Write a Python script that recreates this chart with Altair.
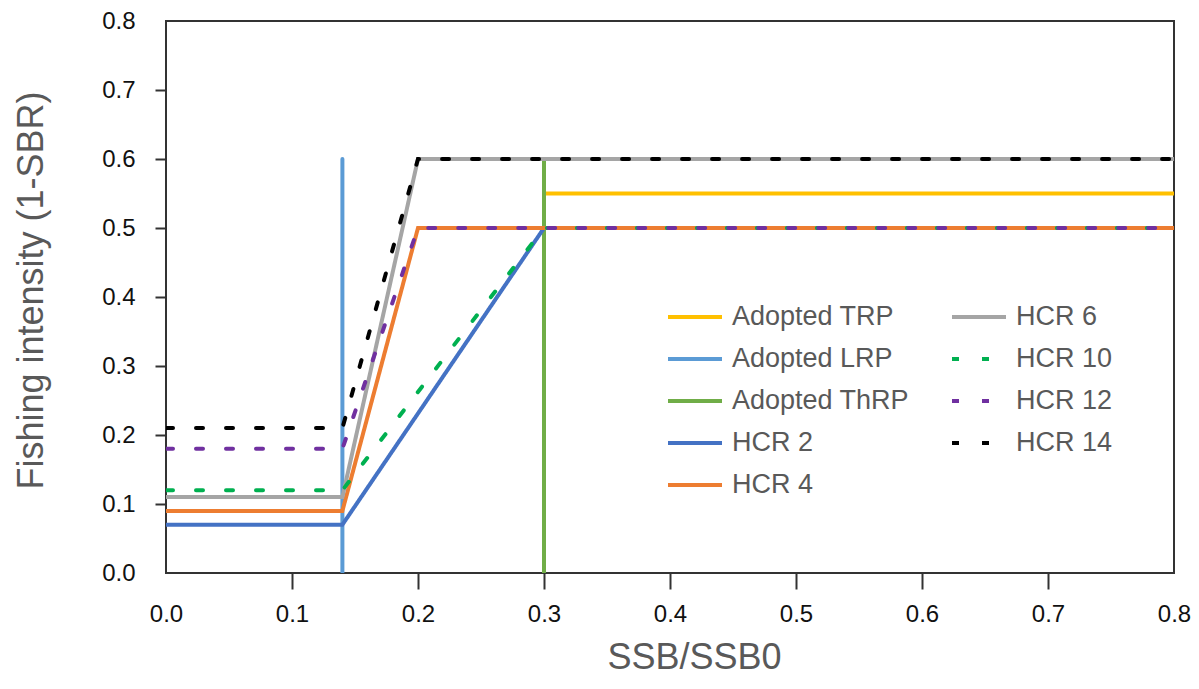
import altair as alt
import pandas as pd

# Series definitions (x = SSB/SSB0, y = fishing intensity 1-SBR)
series_names = ["Adopted TRP", "Adopted LRP", "Adopted ThRP", "HCR 2", "HCR 4",
                "HCR 6", "HCR 10", "HCR 12", "HCR 14"]
xs = {
    "Adopted TRP": [0.3, 0.8],
    "Adopted LRP": [0.14, 0.14],
    "Adopted ThRP": [0.3, 0.3],
    "HCR 2": [0.0, 0.14, 0.3, 0.8],
    "HCR 4": [0.0, 0.14, 0.2, 0.8],
    "HCR 6": [0.0, 0.14, 0.2, 0.8],
    "HCR 10": [0.0, 0.14, 0.3, 0.8],
    "HCR 12": [0.0, 0.14, 0.2, 0.8],
    "HCR 14": [0.0, 0.14, 0.2, 0.8],
}
ys = {
    "Adopted TRP": [0.55, 0.55],
    "Adopted LRP": [0.0, 0.6],
    "Adopted ThRP": [0.0, 0.6],
    "HCR 2": [0.07, 0.07, 0.5, 0.5],
    "HCR 4": [0.09, 0.09, 0.5, 0.5],
    "HCR 6": [0.11, 0.11, 0.6, 0.6],
    "HCR 10": [0.12, 0.12, 0.5, 0.5],
    "HCR 12": [0.18, 0.18, 0.5, 0.5],
    "HCR 14": [0.21, 0.21, 0.6, 0.6],
}

# legend order (column-major in a 2-column legend)
legend_order = series_names
colors = {
    "Adopted TRP": "#FFC000", "Adopted LRP": "#5B9BD5", "Adopted ThRP": "#70AD47",
    "HCR 2": "#4472C4", "HCR 4": "#ED7D31", "HCR 6": "#A5A5A5",
    "HCR 10": "#00B050", "HCR 12": "#7030A0", "HCR 14": "#000000",
}
dotted = {"HCR 10", "HCR 12", "HCR 14"}

x_ticks = [0.0, 0.1, 0.2, 0.3, 0.4, 0.5, 0.6, 0.7, 0.8]
y_ticks = [0.0, 0.1, 0.2, 0.3, 0.4, 0.5, 0.6, 0.7, 0.8]

rows = []
for s in series_names:
    for i, (x, y) in enumerate(zip(xs[s], ys[s])):
        rows.append({"series": s, "x": x, "y": y, "idx": i})
df = pd.DataFrame(rows)

color_range = [colors[s] for s in legend_order]
dash_range = [[7, 23] if s in dotted else [1, 0] for s in legend_order]

FONT = "Liberation Sans"


def make_legend():
    return alt.Legend(orient="none", legendX=500, legendY=267, columns=2,
                      symbolType="stroke", symbolSize=2916,
                      symbolStrokeWidth=4, labelFontSize=27,
                      labelFont=FONT, labelColor="#595959",
                      labelOffset=8, columnPadding=34, rowPadding=-14,
                      padding=0, title=None, labelLimit=400)


tick_color = {"condition": {"test": "datum.value < 0.01 || datum.value > 0.79",
                            "value": "transparent"}, "value": "#333333"}

chart = alt.Chart(df).mark_line(strokeWidth=4, strokeCap="round", clip=True).encode(
    x=alt.X("x:Q", scale=alt.Scale(domain=[0, 0.8], nice=False, zero=False),
            axis=alt.Axis(values=x_ticks, format=".1f", title="SSB/SSB0", grid=False,
                          domain=False, tickSize=16, tickWidth=2, tickColor=tick_color,
                          labelFontSize=24, labelFont=FONT, labelColor="#111111",
                          labelPadding=13, labelFlush=False,
                          titleFontSize=36, titleFont=FONT, titleColor="#595959",
                          titleFontWeight="normal", titleX=528, titleY=95,
                          titleBaseline="alphabetic", titleAlign="center")),
    y=alt.Y("y:Q", scale=alt.Scale(domain=[0, 0.8], nice=False, zero=False),
            axis=alt.Axis(values=y_ticks, format=".1f", title="Fishing intensity (1-SBR)",
                          grid=False, domain=False, tickSize=11, tickWidth=2,
                          tickColor=tick_color,
                          labelFontSize=24, labelFont=FONT, labelColor="#111111",
                          labelPadding=20, labelFlush=False,
                          titleFontSize=36, titleFont=FONT, titleColor="#595959",
                          titleFontWeight="normal", titleX=-124, titleY=269,
                          titleBaseline="alphabetic", titleAlign="center", titleAngle=270)),
    color=alt.Color("series:N", scale=alt.Scale(domain=legend_order, range=color_range),
                    legend=make_legend()),
    strokeDash=alt.StrokeDash("series:N", scale=alt.Scale(domain=legend_order, range=dash_range),
                              legend=make_legend()),
    detail="series:N",
    order="idx:Q",
).properties(
    width=1008, height=552,
    autosize=alt.AutoSizeParams(type="none"),
    padding={"left": 158, "top": 13, "right": 17, "bottom": 103},
    background="white",
).configure_view(stroke="#333333", strokeWidth=2)

chart.save("out.html", embed_options={"renderer": "svg", "actions": False})
